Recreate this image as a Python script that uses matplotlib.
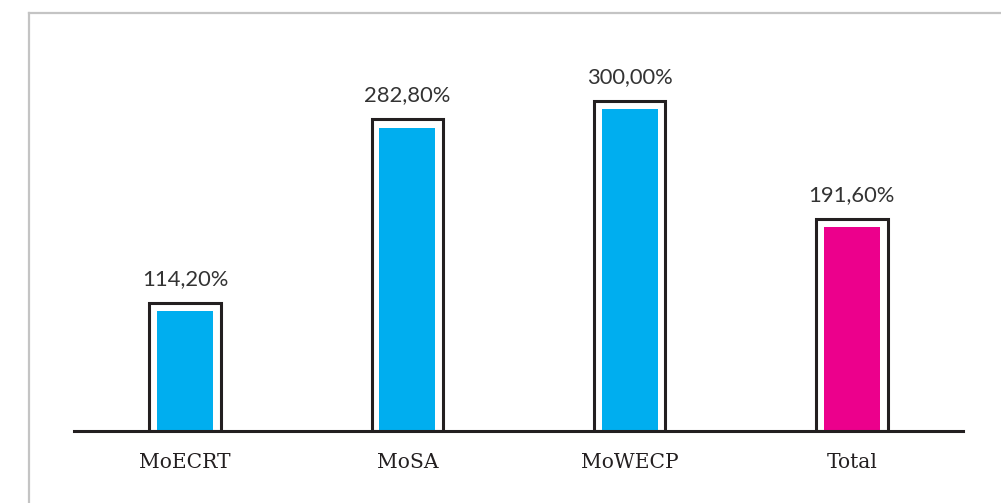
import matplotlib.pyplot as plt
from matplotlib.lines import Line2D

# data
categories = ["MoECRT", "MoSA", "MoWECP", "Total"]
values = [114.2, 282.8, 300.0, 191.6]
labels = ["114,20%", "282,80%", "300,00%", "191,60%"]
colors = ["#00AEEF", "#00AEEF", "#00AEEF", "#EC008C"]

W, H = 1001, 503
fig = plt.figure(figsize=(W / 100, H / 100), dpi=100)

# grey frame at top/left of the card
fig.add_artist(Line2D([29 / W, 29 / W], [0, 1 - 13 / H], color="#c4c4c4", lw=1.6))
fig.add_artist(Line2D([29 / W, 1], [1 - 13 / H, 1 - 13 / H], color="#c4c4c4", lw=1.6))

# axes placed so the baseline sits at y=431 px, x from 74 to 963 px
left, right = 74 / W, 963 / W
bottom = (H - 431) / H
top = (H - 13) / H
ax = fig.add_axes([left, bottom, right - left, top - bottom])
px_per_unit = 1.09
ax.set_ylim(0, (431 - 13) / px_per_unit)
ax.set_xlim(-0.5, len(categories) - 0.5)

x = list(range(len(categories)))
# outlined white bar behind each coloured bar
ax.bar(x, [v + 3 for v in values], width=0.322, color="white",
       edgecolor="#231f20", linewidth=2.2, zorder=2)
ax.bar(x, [v - 4.5 for v in values], width=0.252, color=colors,
       linewidth=0, zorder=3)

for xi, v, lab in zip(x, values, labels):
    ax.annotate(lab, xy=(xi, v + 3), xytext=(0, 13), textcoords="offset points",
                ha="center", va="baseline", fontsize=15.8, family="Lato",
                color="#333333")

for s in ["top", "left", "right"]:
    ax.spines[s].set_visible(False)
ax.spines["bottom"].set_linewidth(2.2)
ax.spines["bottom"].set_color("#231f20")
ax.spines["bottom"].set_zorder(4)
ax.set_yticks([])
ax.set_xticks(x)
ax.set_xticklabels(categories, family="DejaVu Serif", fontsize=14.6, color="#231f20")
ax.tick_params(axis="x", length=0, pad=16)

fig.savefig("out.png", dpi=100)
